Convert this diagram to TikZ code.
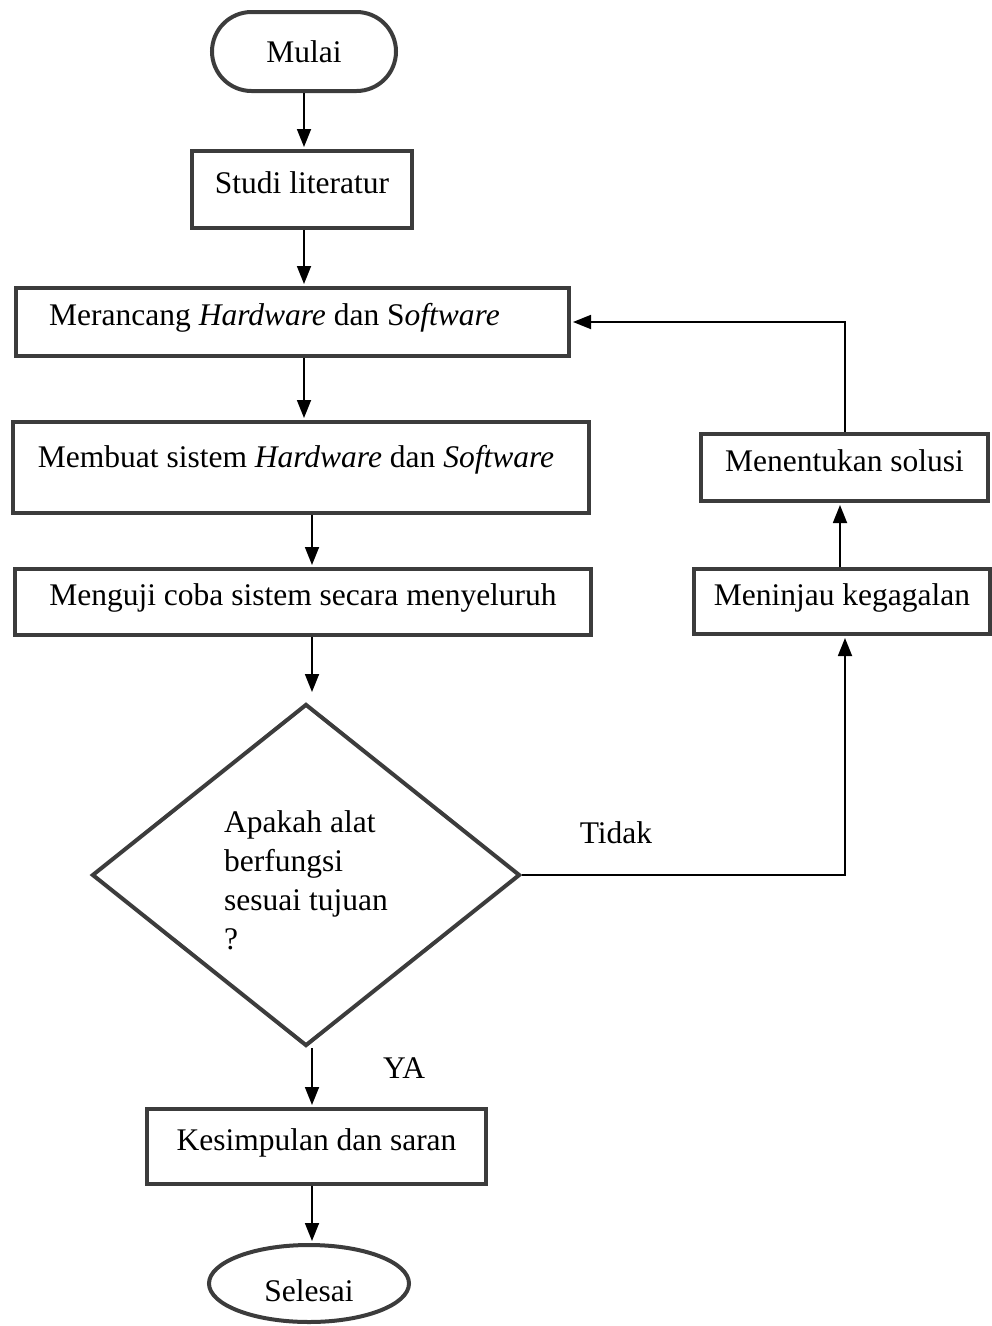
\documentclass[tikz,border=0pt]{standalone}
\usepackage{fontspec}
\setmainfont{Liberation Serif}
\usetikzlibrary{arrows.meta,shapes.geometric,shapes.misc}
\definecolor{boxgray}{HTML}{3C3C3C}
\tikzset{
  box/.style={draw=boxgray, line width=4pt, rectangle, inner sep=0pt,
    text height=21pt, text depth=14pt},
  flow/.style={-{Triangle[width=14pt,length=18pt]}, line width=1.8pt, shorten >=2pt},
}
\begin{document}
\begin{tikzpicture}[x=1pt, y=-1pt, font=\fontsize{31.5}{39}\selectfont]
    \useasboundingbox (0,0) rectangle (992,1326);
    % main column
    \node[box, rounded rectangle, minimum width=184pt, minimum height=79pt,
      text height=22pt, text depth=0pt] (mulai) at (304,51.5) {Mulai};
    \node[box, minimum width=220pt, minimum height=77pt] (studi) at (302,189.5) {Studi literatur};
    \node[box, minimum width=553pt, minimum height=68pt] (rancang) at (292.5,322)
      {Merancang \textit{Hardware} dan S\textit{oftware}\hspace*{36pt}};
    \node[box, minimum width=576pt, minimum height=91pt, text height=21pt, text depth=21pt] (buat) at (301,467.5)
      {Membuat sistem \textit{Hardware} dan \textit{Software}\hspace*{10pt}};
    \node[box, minimum width=576pt, minimum height=66pt] (uji) at (303,602) {Menguji coba sistem secara menyeluruh};
    \node[draw=boxgray, line width=4pt, diamond, minimum width=428pt, minimum height=342pt,
      inner sep=0pt, align=left, text height=149pt, text depth=0pt] (putus) at (306,875)
      {Apakah alat\\berfungsi\\sesuai tujuan\\?};
    \node[box, minimum width=339pt, minimum height=75pt] (simpul) at (316.5,1146.5) {Kesimpulan dan saran};
    \node[box, ellipse, minimum width=200pt, minimum height=77pt,
      text height=36pt, text depth=0pt] (selesai) at (309,1283.5) {Selesai};
    % right column
    \node[box, minimum width=296pt, minimum height=65pt] (tinjau) at (842,601.5) {Meninjau kegagalan};
    \node[box, minimum width=287pt, minimum height=67pt] (solusi) at (844.5,467.5) {Menentukan solusi};
    % labels
    \node (tidak) at (616,833) {Tidak};
    \node (ya) at (404,1068) {YA};
    % connector columns
    \coordinate (ax) at (304,0);
    \coordinate (bx) at (312,0);
    \coordinate (cx) at (845,0);
    \coordinate (dx) at (840,0);
    \draw[flow] (mulai.south -| ax) -- (studi.north -| ax);
    \draw[flow] (studi.south -| ax) -- (rancang.north -| ax);
    \draw[flow] (rancang.south -| ax) -- (buat.north -| ax);
    \draw[flow] (buat.south -| bx) -- (uji.north -| bx);
    \draw[flow, shorten >=10pt] (uji.south -| bx) -- (putus.north -| bx);
    \draw[flow] (putus.south -| bx) -- (simpul.north -| bx);
    \draw[flow] (simpul.south -| bx) -- (selesai.north -| bx);
    \draw[flow] (putus.east) -| (tinjau.south -| cx);
    \draw[flow] (tinjau.north -| dx) -- (solusi.south -| dx);
    \draw[flow] (solusi.north -| cx) |- (rancang.east);
\end{tikzpicture}
\end{document}
